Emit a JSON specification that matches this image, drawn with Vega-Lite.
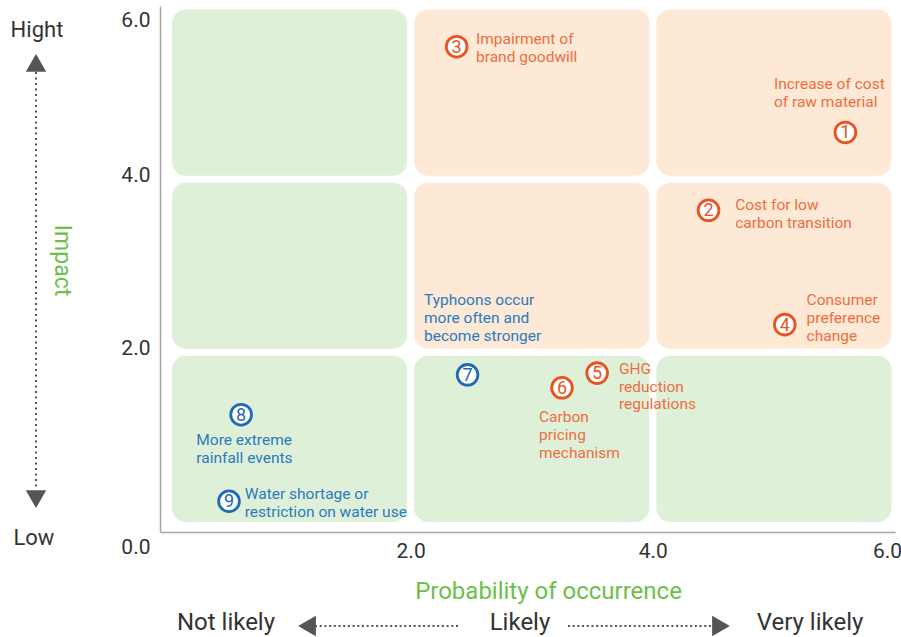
{
  "$schema": "https://vega.github.io/schema/vega-lite/v6.json",
  "width": 735,
  "height": 526,
  "autosize": {"type": "none"},
  "padding": {"left": 160, "top": 6, "right": 6, "bottom": 105},
  "background": "white",
  "config": {"view": {"stroke": null}, "font": "Roboto"},
  "datasets": {
    "cells": [
      {"x0": 0, "x1": 2, "y0": 4, "y1": 6, "z": "g"},
      {"x0": 2, "x1": 4, "y0": 4, "y1": 6, "z": "o"},
      {"x0": 4, "x1": 6, "y0": 4, "y1": 6, "z": "o"},
      {"x0": 0, "x1": 2, "y0": 2, "y1": 4, "z": "g"},
      {"x0": 2, "x1": 4, "y0": 2, "y1": 4, "z": "o"},
      {"x0": 4, "x1": 6, "y0": 2, "y1": 4, "z": "o"},
      {"x0": 0, "x1": 2, "y0": 0, "y1": 2, "z": "g"},
      {"x0": 2, "x1": 4, "y0": 0, "y1": 2, "z": "g"},
      {"x0": 4, "x1": 6, "y0": 0, "y1": 2, "z": "g"}
    ],
    "risks": [
      {"id": "1", "p": 5.59, "i": 4.54, "g": "o", "lx": 5.0, "ly": 5.1, "label": ["Increase of cost", "of raw material"]},
      {"id": "2", "p": 4.46, "i": 3.64, "g": "o", "lx": 4.68, "ly": 3.7, "label": ["Cost for low", "carbon transition"]},
      {"id": "3", "p": 2.38, "i": 5.53, "g": "o", "lx": 2.54, "ly": 5.62, "label": ["Impairment of", "brand goodwill"]},
      {"id": "4", "p": 5.09, "i": 2.32, "g": "o", "lx": 5.27, "ly": 2.6, "label": ["Consumer", "preference", "change"]},
      {"id": "5", "p": 3.54, "i": 1.76, "g": "o", "lx": 3.72, "ly": 1.81, "label": ["GHG", "reduction", "regulations"]},
      {"id": "6", "p": 3.25, "i": 1.59, "g": "o", "lx": 3.06, "ly": 1.25, "label": ["Carbon", "pricing", "mechanism"]},
      {"id": "7", "p": 2.47, "i": 1.74, "g": "b", "lx": 2.11, "ly": 2.6, "label": ["Typhoons occur", "more often and", "become stronger"]},
      {"id": "8", "p": 0.6, "i": 1.28, "g": "b", "lx": 0.23, "ly": 0.99, "label": ["More extreme", "rainfall events"]},
      {"id": "9", "p": 0.5, "i": 0.28, "g": "b", "lx": 0.63, "ly": 0.36, "label": ["Water shortage or", "restriction on water use"]}
    ]
  },
  "layer": [
    {
      "data": {"name": "cells"},
      "mark": {"type": "rect", "cornerRadius": 14, "xOffset": 3.5, "x2Offset": -3.5, "yOffset": -3.5, "y2Offset": 3.5},
      "encoding": {
        "x": {
          "field": "x0", "type": "quantitative",
          "scale": {"domain": [-0.07, 6], "nice": false, "zero": false},
          "axis": {
            "values": [2, 4, 6], "format": ".1f", "grid": false, "ticks": false,
            "domainColor": "#a6a6a6", "domainWidth": 1.5,
            "labelFont": "Roboto", "labelFontSize": 21, "labelColor": "#333333",
            "labelPadding": 8, "labelFlush": false, "labelOverlap": false,
            "labelOffset": {"condition": {"test": "datum.value == 6", "value": -8}, "value": 0},
            "title": "Probability of occurrence", "titleColor": "#6cc04a", "titleFont": "Roboto",
            "titleFontSize": 24, "titleFontWeight": "normal", "titleBaseline": "middle",
            "titleAlign": "center", "titleX": 388, "titleY": 59
          }
        },
        "x2": {"field": "x1"},
        "y": {
          "field": "y0", "type": "quantitative",
          "scale": {"domain": [-0.075, 6], "nice": false, "zero": false},
          "axis": {
            "values": [0, 2, 4, 6], "format": ".1f", "grid": false, "ticks": false,
            "domainColor": "#a6a6a6", "domainWidth": 1.5,
            "labelFont": "Roboto", "labelFontSize": 21, "labelColor": "#333333",
            "labelPadding": 10, "labelFlush": false, "labelOverlap": false,
            "labelOffset": {"condition": [{"test": "datum.value == 0", "value": 22}, {"test": "datum.value == 6", "value": 14}], "value": -4},
            "title": "Impact", "titleColor": "#6cc04a", "titleFont": "Roboto",
            "titleFontSize": 23, "titleFontWeight": "normal", "titleAngle": 90,
            "titleBaseline": "middle", "titleAlign": "center", "titleX": -99, "titleY": 254
          }
        },
        "y2": {"field": "y1"},
        "color": {"field": "z", "type": "nominal", "scale": {"domain": ["g", "o"], "range": ["#dff0d9", "#fde9d6"]}, "legend": null}
      }
    },
    {
      "data": {"name": "risks"},
      "mark": {"type": "point", "shape": "circle", "filled": true, "fill": "white", "size": 430, "strokeWidth": 2.8, "opacity": 1},
      "encoding": {
        "x": {"field": "p", "type": "quantitative", "scale": {"domain": [-0.07, 6], "nice": false, "zero": false}},
        "y": {"field": "i", "type": "quantitative", "scale": {"domain": [-0.075, 6], "nice": false, "zero": false}},
        "stroke": {"field": "g", "type": "nominal", "scale": {"domain": ["o", "b"], "range": ["#e9531f", "#1e6cb3"]}, "legend": null}
      }
    },
    {
      "data": {"name": "risks"},
      "mark": {"type": "text", "font": "Roboto", "fontSize": 18, "align": "center", "baseline": "middle", "dy": 1},
      "encoding": {
        "x": {"field": "p", "type": "quantitative", "scale": {"domain": [-0.07, 6], "nice": false, "zero": false}},
        "y": {"field": "i", "type": "quantitative", "scale": {"domain": [-0.075, 6], "nice": false, "zero": false}},
        "text": {"field": "id"},
        "color": {"field": "g", "type": "nominal", "scale": {"domain": ["o", "b"], "range": ["#e9531f", "#1e6cb3"]}, "legend": null}
      }
    },
    {
      "data": {"name": "risks"},
      "mark": {"type": "text", "font": "Roboto", "fontSize": 15.5, "align": "left", "baseline": "middle", "lineHeight": 17.8},
      "encoding": {
        "x": {"field": "lx", "type": "quantitative", "scale": {"domain": [-0.07, 6], "nice": false, "zero": false}},
        "y": {"field": "ly", "type": "quantitative", "scale": {"domain": [-0.075, 6], "nice": false, "zero": false}},
        "text": {"field": "label"},
        "color": {"field": "g", "type": "nominal", "scale": {"domain": ["o", "b"], "range": ["#ef6e40", "#2a7bbf"]}, "legend": null}
      }
    },
    {
      "data": {"values": [{"t": "Hight"}]},
      "mark": {"type": "text", "fontSize": 22, "color": "#333333", "align": "center", "baseline": "middle"},
      "encoding": {"x": {"datum": -1.086, "type": "quantitative"}, "y": {"datum": 5.723, "type": "quantitative"}, "text": {"field": "t"}}
    },
    {
      "data": {"values": [{"t": "Low"}]},
      "mark": {"type": "text", "fontSize": 22, "color": "#333333", "align": "center", "baseline": "middle"},
      "encoding": {"x": {"datum": -1.111, "type": "quantitative"}, "y": {"datum": -0.144, "type": "quantitative"}, "text": {"field": "t"}}
    },
    {
      "data": {"values": [{"t": "Not likely"}]},
      "mark": {"type": "text", "fontSize": 24, "color": "#333333", "align": "center", "baseline": "middle"},
      "encoding": {"x": {"datum": 0.475, "type": "quantitative"}, "y": {"datum": -1.126, "type": "quantitative"}, "text": {"field": "t"}}
    },
    {
      "data": {"values": [{"t": "Likely"}]},
      "mark": {"type": "text", "fontSize": 24, "color": "#333333", "align": "center", "baseline": "middle"},
      "encoding": {"x": {"datum": 2.903, "type": "quantitative"}, "y": {"datum": -1.126, "type": "quantitative"}, "text": {"field": "t"}}
    },
    {
      "data": {"values": [{"t": "Very likely"}]},
      "mark": {"type": "text", "fontSize": 24, "color": "#333333", "align": "center", "baseline": "middle"},
      "encoding": {"x": {"datum": 5.298, "type": "quantitative"}, "y": {"datum": -1.126, "type": "quantitative"}, "text": {"field": "t"}}
    },
    {
      "data": {"values": [{}]},
      "mark": {"type": "rule", "color": "#555555", "strokeWidth": 2, "strokeDash": [2, 3.5]},
      "encoding": {"x": {"datum": -1.094, "type": "quantitative"}, "y": {"datum": 5.238, "type": "quantitative"}, "y2": {"datum": 0.41}}
    },
    {
      "data": {"values": [{}]},
      "mark": {"type": "rule", "color": "#555555", "strokeWidth": 2, "strokeDash": [2, 2.7]},
      "encoding": {"x": {"datum": 1.21, "type": "quantitative"}, "x2": {"datum": 2.407}, "y": {"datum": -1.161, "type": "quantitative"}}
    },
    {
      "data": {"values": [{}]},
      "mark": {"type": "rule", "color": "#555555", "strokeWidth": 2, "strokeDash": [2, 2.7]},
      "encoding": {"x": {"datum": 3.299, "type": "quantitative"}, "x2": {"datum": 4.513}, "y": {"datum": -1.161, "type": "quantitative"}}
    },
    {
      "data": {"values": [{}]},
      "mark": {"type": "point", "shape": "triangle-up", "filled": true, "color": "#555555", "size": 420, "opacity": 1},
      "encoding": {"x": {"datum": -1.094, "type": "quantitative"}, "y": {"datum": 5.342, "type": "quantitative"}}
    },
    {
      "data": {"values": [{}]},
      "mark": {"type": "point", "shape": "triangle-down", "filled": true, "color": "#555555", "size": 420, "opacity": 1},
      "encoding": {"x": {"datum": -1.094, "type": "quantitative"}, "y": {"datum": 0.306, "type": "quantitative"}}
    },
    {
      "data": {"values": [{}]},
      "mark": {"type": "point", "shape": "triangle-left", "filled": true, "color": "#555555", "size": 420, "opacity": 1},
      "encoding": {"x": {"datum": 1.144, "type": "quantitative"}, "y": {"datum": -1.161, "type": "quantitative"}}
    },
    {
      "data": {"values": [{}]},
      "mark": {"type": "point", "shape": "triangle-right", "filled": true, "color": "#555555", "size": 420, "opacity": 1},
      "encoding": {"x": {"datum": 4.563, "type": "quantitative"}, "y": {"datum": -1.161, "type": "quantitative"}}
    }
  ],
  "resolve": {"scale": {"color": "independent"}}
}
